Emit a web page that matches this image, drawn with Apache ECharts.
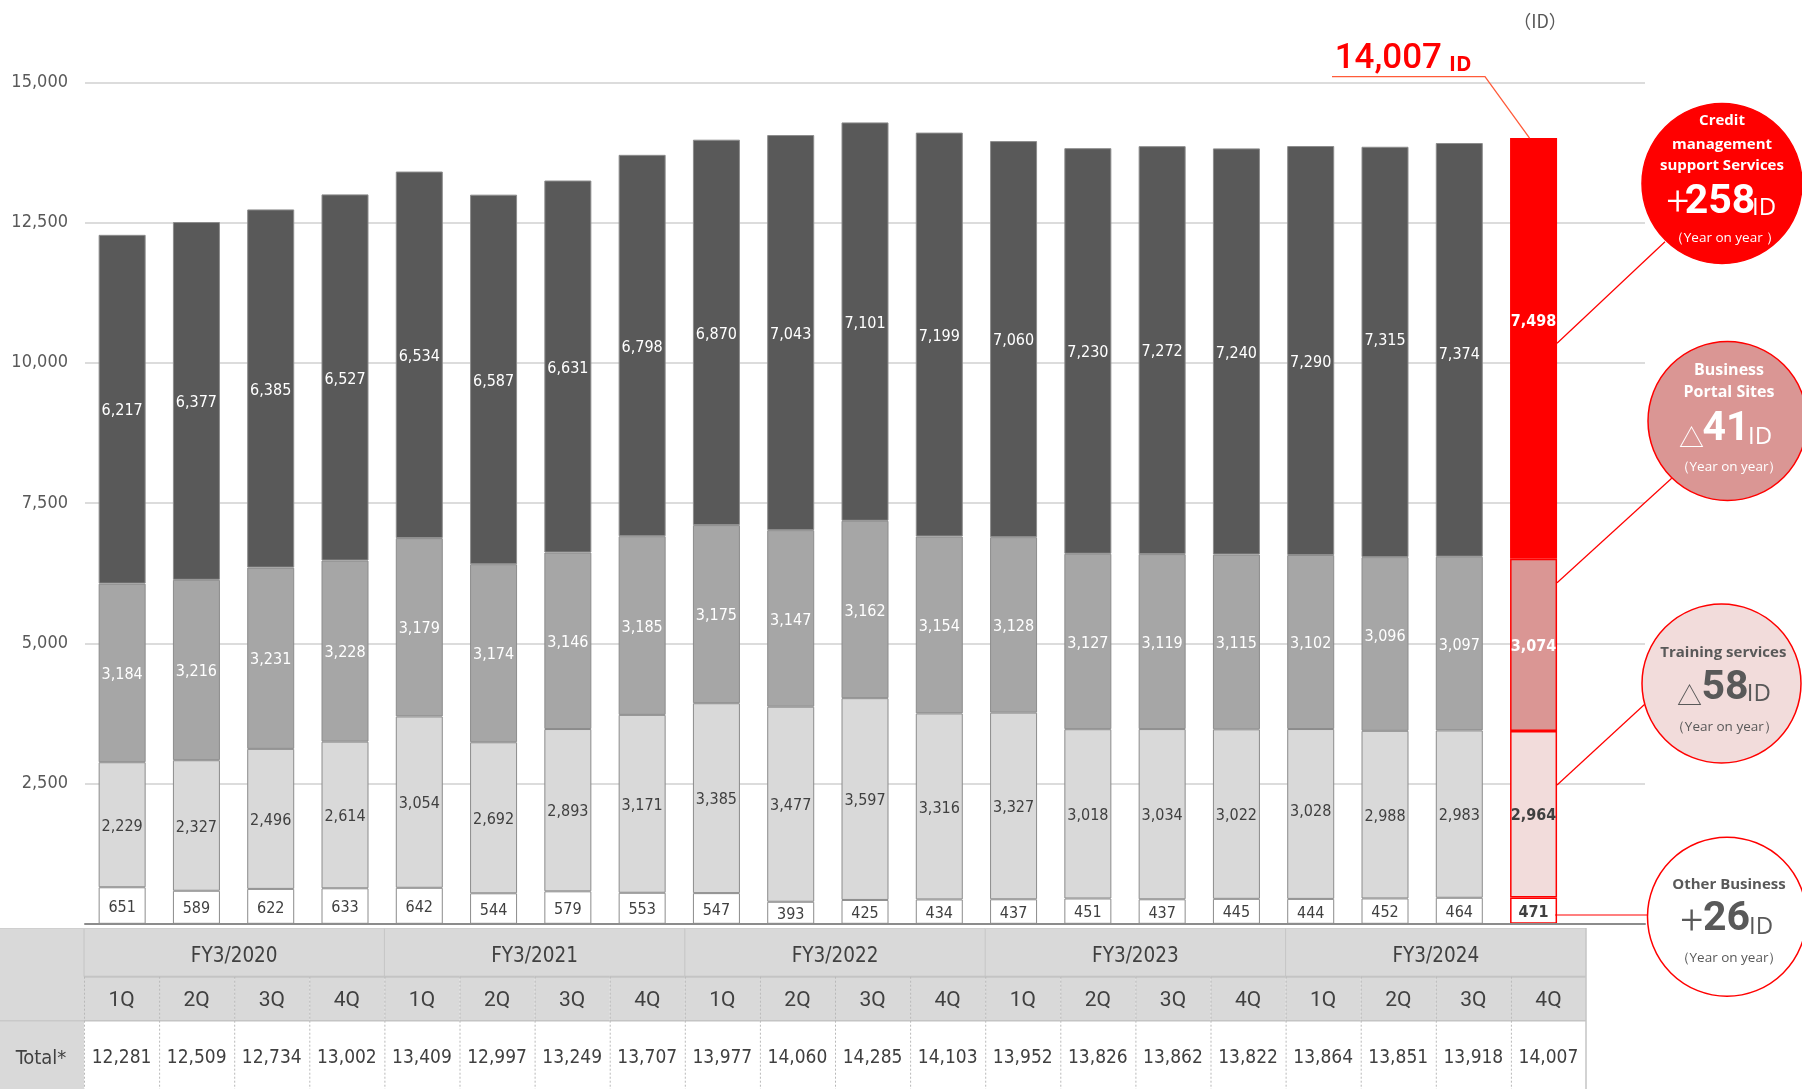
<!DOCTYPE html>
<html><head><meta charset="utf-8">
<script src="https://cdn.jsdelivr.net/npm/echarts@6/dist/echarts.min.js"></script>
<style>html,body{margin:0;padding:0;background:#fff}#c{width:1802px;height:1089px}</style>
</head><body><div id="c"></div>
<script>
// ---------------- data ----------------
const fiscalYears = ['FY3/2020', 'FY3/2021', 'FY3/2022', 'FY3/2023', 'FY3/2024'];
const quarterNames = ['1Q', '2Q', '3Q', '4Q'];
const otherBusiness = [651, 589, 622, 633, 642, 544, 579, 553, 547, 393, 425, 434, 437, 451, 437, 445, 444, 452, 464, 471];
const trainingServices = [2229, 2327, 2496, 2614, 3054, 2692, 2893, 3171, 3385, 3477, 3597, 3316, 3327, 3018, 3034, 3022, 3028, 2988, 2983, 2964];
const businessPortal = [3184, 3216, 3231, 3228, 3179, 3174, 3146, 3185, 3175, 3147, 3162, 3154, 3128, 3127, 3119, 3115, 3102, 3096, 3097, 3074];
const creditManagement = [6217, 6377, 6385, 6527, 6534, 6587, 6631, 6798, 6870, 7043, 7101, 7199, 7060, 7230, 7272, 7240, 7290, 7315, 7374, 7498];
const totals = [12281, 12509, 12734, 13002, 13409, 12997, 13249, 13707, 13977, 14060, 14285, 14103, 13952, 13826, 13862, 13822, 13864, 13851, 13918, 14007];
const yTickValues = [0, 2500, 5000, 7500, 10000, 12500, 15000];
const headline = { total: '14,007', unit: 'ID' };
const yoy = [
  { lines: ['Credit', 'management', 'support Services'], sign: '+', num: '258', foot: '（Year on year ）' },
  { lines: ['Business', 'Portal Sites'], sign: '△', num: '41', foot: '（Year on year）' },
  { lines: ['Training services'], sign: '△', num: '58', foot: '（Year on year）' },
  { lines: ['Other Business'], sign: '+', num: '26', foot: '（Year on year）' }
];

// ---------------- derived ----------------
const quarterLabels = [];
fiscalYears.forEach(fy => quarterNames.forEach(q => quarterLabels.push(q)));
const categories = quarterLabels.map((q, i) => fiscalYears[Math.floor(i / 4)] + ' ' + q).concat(['']);
const N = totals.length;
const LAST = N - 1;

const NARROW = "'DejaVu Sans Condensed','Liberation Sans Narrow','DejaVu Sans',sans-serif";
const WIDE = "Roboto,'Noto Sans',sans-serif";
const CIRC = "'Open Sans','Noto Sans',sans-serif";
const CJK = "'Noto Sans CJK JP','Noto Sans',sans-serif";
const fmt = v => Number(v).toLocaleString('en-US');

const BAR_W = 47;
const grays = ['#ffffff', '#d9d9d9', '#a6a6a6', '#595959'];
const lastColors = ['#ffffff', '#f2dcdb', '#da9694', '#ff0000'];
const labelColors = ['#404040', '#404040', '#ffffff', '#ffffff'];
const seriesData = [otherBusiness, trainingServices, businessPortal, creditManagement];
const seriesNames = ['Other Business', 'Training services', 'Business Portal Sites', 'Credit management support Services'];
// hand-placed label nudges in the original (pixels, style only): [seriesIndex, dataIndex, dy]
const labelNudges = [[3, 16, 10], [3, 17, -13], [3, 18, 3], [3, 19, -28], [2, 17, -9], [1, 16, -4]];
const nudge = (s, i) => { const n = labelNudges.find(a => a[0] === s && a[1] === i); return (n ? n[2] : 0) + 2; };

const barSeries = seriesData.map((arr, s) => ({
  name: seriesNames[s],
  type: 'bar',
  stack: 'ids',
  barWidth: BAR_W,
  xAxisIndex: 0, yAxisIndex: 0,
  itemStyle: { color: grays[s], borderColor: '#8c8c8c', borderWidth: 1 },
  label: {
    show: true, position: 'inside', formatter: p => fmt(p.value),
    color: labelColors[s], fontFamily: NARROW, fontSize: 16
  },
  data: arr.map((v, i) => {
    const item = { value: v, label: { offset: [0, nudge(s, i)] } };
    if (i === LAST) {
      item.itemStyle = { color: lastColors[s], borderColor: '#ff0000', borderWidth: 1.5 };
      item.label.fontWeight = 'bold';
      item.label.color = s >= 2 ? '#ffffff' : '#404040';
    }
    return item;
  })
}));

// table rows (in table-axis units = px from table top)
const T_FY = 48.7, T_Q = 92.7, T_END = 161, T_TOTAL_TEXT = 130;

const tableSeries = {
  type: 'custom',
  xAxisIndex: 1, yAxisIndex: 1,
  silent: true,
  clip: false,
  encode: { x: 0, y: 1 },
  data: totals.map((t, i) => [i, 0, t]),
  renderItem: (params, api) => {
    const i = api.value(0);
    const w = api.size([1, 0])[0];
    const cx = api.coord([i, 0])[0];
    const x = cx - w / 2;
    const yTop = api.coord([i, 0])[1];
    const yFy = api.coord([i, T_FY])[1];
    const yQ = api.coord([i, T_Q])[1];
    const yEnd = api.coord([i, T_END])[1];
    const yTot = api.coord([i, T_TOTAL_TEXT])[1];
    const ch = [];
    ch.push({ type: 'rect', shape: { x: x, y: yFy, width: w, height: yQ - yFy }, style: { fill: '#d9d9d9' } });
    if (i % 4 === 0) {
      ch.push({ type: 'rect', shape: { x: x, y: yTop, width: 4 * w, height: yFy - yTop }, style: { fill: '#d9d9d9' } });
      ch.push({ type: 'text', style: { text: fiscalYears[i / 4], x: x + 2 * w, y: (yTop + yFy) / 2 + 4, align: 'center', verticalAlign: 'middle', fontFamily: NARROW, fontSize: 20.5, fill: '#404040' } });
      ch.push({ type: 'line', shape: { x1: x, y1: yTop, x2: x, y2: yFy }, style: { stroke: '#c4c4c4', lineWidth: 1 } });
    }
    ch.push({ type: 'line', shape: { x1: x, y1: yTop + 0.5, x2: x + w, y2: yTop + 0.5 }, style: { stroke: '#cfcfcf', lineWidth: 1 } });
    ch.push({ type: 'line', shape: { x1: x, y1: yFy, x2: x + w, y2: yFy }, style: { stroke: '#c4c4c4', lineWidth: 2 } });
    ch.push({ type: 'line', shape: { x1: x, y1: yQ, x2: x + w, y2: yQ }, style: { stroke: '#c4c4c4', lineWidth: 1.5 } });
    ch.push({ type: 'line', shape: { x1: x + 0.5, y1: yFy, x2: x + 0.5, y2: yEnd }, style: { stroke: '#b8b8b8', lineWidth: 1, lineDash: [2, 2] } });
    if (i === LAST) {
      ch.push({ type: 'line', shape: { x1: x + w, y1: yTop, x2: x + w, y2: yEnd }, style: { stroke: '#c4c4c4', lineWidth: 1.5 } });
    }
    ch.push({ type: 'text', style: { text: quarterLabels[i], x: cx, y: (yFy + yQ) / 2 + 2, align: 'center', verticalAlign: 'middle', fontFamily: WIDE, fontSize: 21, fill: '#404040' } });
    ch.push({ type: 'text', style: { text: fmt(api.value(2)), x: cx, y: yTot, align: 'center', verticalAlign: 'middle', fontFamily: NARROW, fontSize: 19, fill: '#404040' } });
    return { type: 'group', children: ch };
  }
};

const chart = echarts.init(document.getElementById('c'), null, { renderer: 'canvas' });
chart.setOption({
  animation: false,
  backgroundColor: '#ffffff',
  grid: [
    { left: 85, top: 82.3, width: 1560, height: 841.5 },
    { left: 84, top: 928, width: 1502, height: 161 }
  ],
  xAxis: [
    { type: 'category', gridIndex: 0, data: categories, axisTick: { show: false }, axisLabel: { show: false },
      axisLine: { lineStyle: { color: '#8c8c8c', width: 2 } }, z: 5 },
    { type: 'category', gridIndex: 1, data: quarterLabels, show: false }
  ],
  yAxis: [
    { type: 'value', gridIndex: 0, min: yTickValues[0], max: yTickValues[yTickValues.length - 1], interval: yTickValues[1] - yTickValues[0],
      axisLine: { show: false }, axisTick: { show: false },
      splitLine: { lineStyle: { color: '#dcdcdc', width: 2 } },
      axisLabel: { showMinLabel: false, formatter: v => fmt(v), color: '#595959', fontFamily: NARROW, fontSize: 18, margin: 17 } },
    { type: 'value', gridIndex: 1, min: 0, max: T_END, inverse: true, show: false }
  ],
  series: barSeries.concat([tableSeries])
});

// ---------------- annotations ----------------
const lastCx = chart.convertToPixel({ xAxisIndex: 0 }, LAST);
const barRight = lastCx + BAR_W / 2;
const topY = chart.convertToPixel({ yAxisIndex: 0 }, totals[LAST]);

const circles = [
  { cx: 1722, cy: 183.5, r: 80, fill: '#ff0000', stroke: '#ff0000', txt: '#ffffff',
    lineY: [121, 144.3, 165.7], lineX: 1722, lfs: 15,
    sign: { x: 1689, y: 205 }, num: { x: 1720, y: 202.5 }, id: { x: 1752, y: 208 }, foot: { x: 1725, y: 238.3 },
    from: [barRight, 343.3], to: [1665, 241.7] },
  { cx: 1727.5, cy: 421, r: 79.5, fill: '#da9694', stroke: '#ff0000', txt: '#ffffff',
    lineY: [370.7, 392.3], lineX: 1729, lfs: 16,
    sign: { x: 1704, y: 437 }, num: { x: 1726, y: 430 }, id: { x: 1748, y: 436.7 }, foot: { x: 1729, y: 466.7 },
    from: [barRight, 582.7], to: [1671.7, 478.3] },
  { cx: 1721.5, cy: 683.5, r: 79.5, fill: '#f2dcdb', stroke: '#ff0000', txt: '#595959',
    lineY: [652.3], lineX: 1723.3, lfs: 15,
    sign: { x: 1702, y: 695 }, num: { x: 1725, y: 688.8 }, id: { x: 1746.7, y: 694.3 }, foot: { x: 1724.3, y: 726.7 },
    from: [barRight, 785], to: [1645, 704] },
  { cx: 1727, cy: 916.7, r: 79.5, fill: '#ffffff', stroke: '#ff0000', txt: '#595959',
    lineY: [884.3], lineX: 1729, lfs: 15,
    sign: { x: 1703, y: 924 }, num: { x: 1726.5, y: 920 }, id: { x: 1749, y: 926.7 }, foot: { x: 1729, y: 958.3 },
    from: [barRight - 2, 915], to: [1647.5, 915] }
];

const g = [];
// left header column of table
g.push({ type: 'rect', shape: { x: 0, y: 928, width: 84, height: 161 }, style: { fill: '#d9d9d9' }, z: 1 });
g.push({ type: 'line', shape: { x1: 0, y1: 928.5, x2: 84, y2: 928.5 }, style: { stroke: '#cfcfcf', lineWidth: 1 }, z: 2 });
g.push({ type: 'line', shape: { x1: 0, y1: 1020.7, x2: 84, y2: 1020.7 }, style: { stroke: '#c9c9c9', lineWidth: 1.5 }, z: 2 });
g.push({ type: 'text', style: { text: 'Total*', x: 41, y: 1059, align: 'center', verticalAlign: 'middle', fontFamily: NARROW, fontSize: 20, fill: '#404040' }, z: 2 });
// unit
g.push({ type: 'text', style: { text: '（ID）', x: 1540, y: 21, align: 'center', verticalAlign: 'middle', fontFamily: CJK, fontSize: 18, fill: '#595959' } });
// headline total
g.push({ type: 'polyline', shape: { points: [[1332, 76.7], [1485, 76.7], [lastCx - 4, topY]] }, style: { stroke: '#ff5b3a', lineWidth: 1.3, fill: null }, z: 10 });
g.push({ type: 'text', style: { text: headline.total, x: 1442, y: 59.5, align: 'right', verticalAlign: 'middle', fontFamily: WIDE, fontWeight: 500, fontSize: 35, fill: '#ff0000' }, z: 10 });
g.push({ type: 'text', style: { text: headline.unit, x: 1449, y: 65, align: 'left', verticalAlign: 'middle', fontFamily: CIRC, fontWeight: 'bold', fontSize: 21, fill: '#ff0000' }, z: 10 });

circles.forEach((c, k) => {
  const d = yoy[k];
  g.push({ type: 'line', shape: { x1: c.from[0], y1: c.from[1], x2: c.to[0], y2: c.to[1] }, style: { stroke: '#ff0000', lineWidth: 1.2 }, z: 10 });
  g.push({ type: 'circle', shape: { cx: c.cx, cy: c.cy, r: c.r }, style: { fill: c.fill, stroke: c.stroke, lineWidth: 1.5 }, z: 11 });
  d.lines.forEach((t, j) => {
    g.push({ type: 'text', style: { text: t, x: c.lineX, y: c.lineY[j], align: 'center', verticalAlign: 'middle', fontFamily: CIRC, fontWeight: 'bold', fontSize: c.lfs, fill: c.txt }, z: 12 });
  });
  const signFont = d.sign === '+' ? { fontFamily: WIDE, fontSize: 40, fontWeight: 300 } : { fontFamily: CJK, fontSize: 25, fontWeight: 'normal' };
  g.push({ type: 'text', style: Object.assign({ text: d.sign, x: c.sign.x, y: c.sign.y, align: 'right', verticalAlign: 'middle', fill: c.txt }, signFont), z: 12 });
  g.push({ type: 'text', style: { text: d.num, x: c.num.x, y: c.num.y, align: 'center', verticalAlign: 'middle', fontFamily: WIDE, fontWeight: 'bold', fontSize: 41, fill: c.txt }, z: 12 });
  g.push({ type: 'text', style: { text: 'ID', x: c.id.x, y: c.id.y, align: 'left', verticalAlign: 'middle', fontFamily: CIRC, fontWeight: 'normal', fontSize: 24, fill: c.txt }, z: 12 });
  g.push({ type: 'text', style: { text: d.foot, x: c.foot.x, y: c.foot.y, align: 'center', verticalAlign: 'middle', fontFamily: CIRC, fontSize: 13.5, fill: c.txt }, z: 12 });
});

chart.setOption({ graphic: { elements: g } });
</script>
</body></html>
